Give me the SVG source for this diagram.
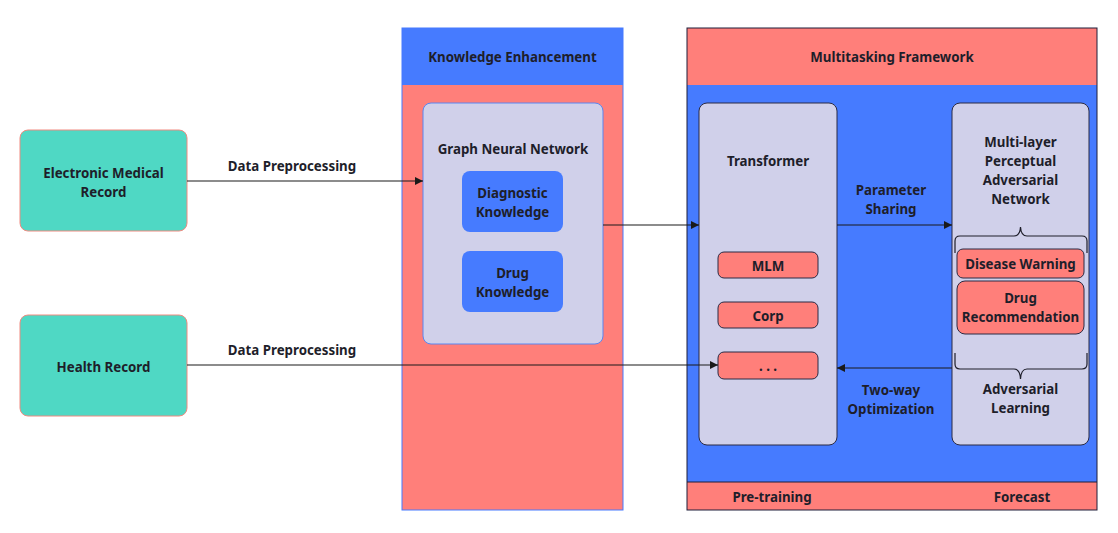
<svg xmlns="http://www.w3.org/2000/svg" width="1118" height="533" viewBox="0 0 1118 533">
<defs>
<style>
text{font-family:"Noto Sans","Open Sans","Liberation Sans",sans-serif;font-weight:bold;font-size:13.3px;fill:#1e1e2a;text-anchor:middle}
.src{fill:#4FD8C4;stroke:#F08A80;stroke-width:1}
.lav{fill:#D0D0EA}
.blue{fill:#467BFF}
.sal{fill:#FF7F7A}
.conn{stroke:#1a1a1a;stroke-width:1.2;fill:none}
.brace{stroke:#1e1e2a;stroke-width:1.2;fill:none}
</style>
<marker id="ah" viewBox="0 0 10 10" refX="10" refY="5" markerWidth="8" markerHeight="8" markerUnits="userSpaceOnUse" orient="auto">
<path d="M0,0 L10,5 L0,10 z" fill="#1a1a1a"/>
</marker>
</defs>
<rect width="1118" height="533" fill="#fff"/>

<g id="emr">
<rect class="src" x="20" y="130" width="167" height="101" rx="8"/>
<text x="103.5" y="178">Electronic Medical</text>
<text x="103.5" y="197">Record</text>
</g>
<g id="health">
<rect class="src" x="20" y="315" width="167" height="101" rx="8"/>
<text x="103.5" y="372">Health Record</text>
</g>

<g id="knowledge-enhancement">
<rect class="sal" x="402" y="85" width="221" height="425"/>
<rect class="blue" x="402" y="28" width="221" height="57"/>
<rect x="402" y="28" width="221" height="482" fill="none" stroke="#467BFF" stroke-width="1"/>
<text x="512.5" y="62">Knowledge Enhancement</text>
</g>
<g id="gnn">
<rect class="lav" x="423" y="103" width="180" height="241" rx="8" stroke="#5A86F0" stroke-width="1"/>
<text x="513" y="154">Graph Neural Network</text>
</g>
<g id="diag">
<rect class="blue" x="462" y="171" width="101" height="61" rx="8"/>
<text x="512.5" y="198">Diagnostic</text>
<text x="512.5" y="217">Knowledge</text>
</g>
<g id="drug">
<rect class="blue" x="462" y="251" width="101" height="61" rx="8"/>
<text x="512.5" y="278">Drug</text>
<text x="512.5" y="297">Knowledge</text>
</g>

<g id="multitasking">
<rect class="blue" x="687" y="85" width="410" height="397"/>
<rect class="sal" x="687" y="28" width="410" height="57"/>
<rect class="sal" x="687" y="482" width="410" height="28"/>
<line x1="687" y1="482" x2="1097" y2="482" stroke="#1e1e3a" stroke-width="1"/>
<rect x="687" y="28" width="410" height="482" fill="none" stroke="#1e1e3a" stroke-width="1"/>
<text x="892" y="62">Multitasking Framework</text>
<text x="772" y="502">Pre-training</text>
<text x="1022" y="502">Forecast</text>
</g>

<g id="transformer">
<rect class="lav" x="699" y="103" width="138" height="342" rx="8" stroke="#2a2a44" stroke-width="1"/>
<text x="768" y="166">Transformer</text>
</g>
<g id="mlm">
<rect class="sal" x="718" y="252" width="100" height="26" rx="6" stroke="#2a2a44" stroke-width="1"/>
<text x="768" y="270.5">MLM</text>
</g>
<g id="corp">
<rect class="sal" x="718" y="302" width="100" height="26" rx="6" stroke="#2a2a44" stroke-width="1"/>
<text x="768" y="320.5">Corp</text>
</g>
<g id="etc">
<rect class="sal" x="718" y="352" width="100" height="27" rx="6" stroke="#2a2a44" stroke-width="1"/>
<text x="768" y="371">. . .</text>
</g>

<g id="mlpan">
<rect class="lav" x="952" y="103" width="137" height="342" rx="8" stroke="#2a2a44" stroke-width="1"/>
<text x="1020.5" y="147">Multi-layer</text>
<text x="1020.5" y="166">Perceptual</text>
<text x="1020.5" y="185">Adversarial</text>
<text x="1020.5" y="204">Network</text>
<path class="brace" d="M955,253 L955,241 Q955,236 960,236 L1014,236 Q1020,236 1020.5,227 Q1021,236 1027,236 L1082,236 Q1087,236 1087,241 L1087,253"/>
<path class="brace" d="M955,353 L955,364 Q955,369 960,369 L1014,369 Q1020,369 1020.5,379 Q1021,369 1027,369 L1082,369 Q1087,369 1087,364 L1087,353"/>
<text x="1020.5" y="394">Adversarial</text>
<text x="1020.5" y="413">Learning</text>
</g>
<g id="disease">
<rect class="sal" x="957" y="249" width="127" height="29" rx="6" stroke="#2a2a44" stroke-width="1"/>
<text x="1020.5" y="268.5">Disease Warning</text>
</g>
<g id="drugrec">
<rect class="sal" x="957" y="281" width="127" height="53" rx="8" stroke="#2a2a44" stroke-width="1"/>
<text x="1020.5" y="303">Drug</text>
<text x="1020.5" y="322">Recommendation</text>
</g>

<g id="connectors">
<line class="conn" x1="187" y1="181" x2="423" y2="181" marker-end="url(#ah)"/>
<text x="292" y="171">Data Preprocessing</text>
<line class="conn" x1="187" y1="365" x2="718" y2="365" marker-end="url(#ah)"/>
<text x="292" y="355">Data Preprocessing</text>
<line class="conn" x1="603" y1="225" x2="699" y2="225" marker-end="url(#ah)"/>
<line class="conn" x1="837" y1="225" x2="952" y2="225" marker-end="url(#ah)"/>
<text x="891" y="195">Parameter</text>
<text x="891" y="214">Sharing</text>
<line class="conn" x1="952" y1="368" x2="837" y2="368" marker-end="url(#ah)"/>
<text x="891" y="395">Two-way</text>
<text x="891" y="414">Optimization</text>
</g>
</svg>
